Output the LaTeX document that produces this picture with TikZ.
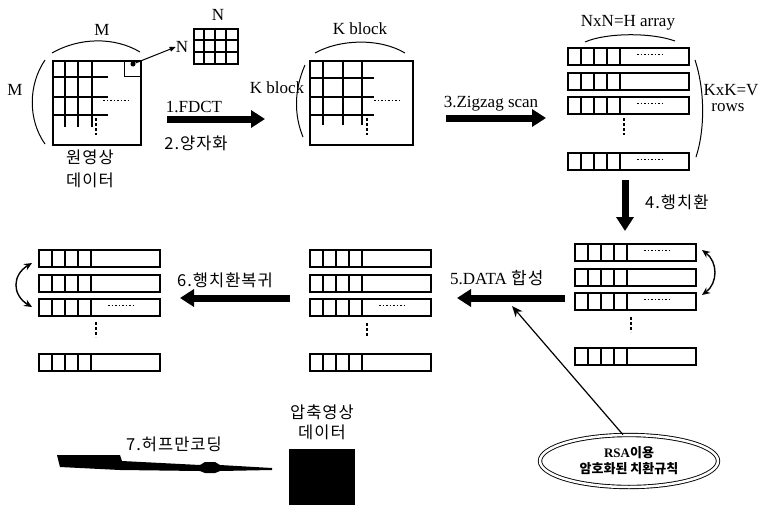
\documentclass[tikz,border=0pt]{standalone}
\usepackage{fontspec}
\setmainfont{Liberation Serif}
\newfontfamily\kr[LetterSpace=6]{Noto Sans CJK KR}
\newfontfamily\krsmall{Noto Sans CJK KR}
\usetikzlibrary{arrows.meta,shapes.geometric}
\newcommand\myrow[4]{%
  \node[rowbox] (#1) at (#2,#3) {};
  \foreach \d in {14,27,40,53}
    \draw[thick line] ([xshift=\d pt]#1.north west) -- ([xshift=\d pt]#1.south west);
  \ifnum#4=1
    \draw[rowdots] ([xshift=70pt,yshift=-7pt]#1.north west) -- ([xshift=98pt,yshift=-7pt]#1.north west);
  \fi
}
\begin{document}
\begin{tikzpicture}[x=1pt,y=-1pt,
  lbl/.style={font=\fontsize{17}{17}\selectfont, inner sep=0pt},
  krl/.style={font=\kr\fontsize{16.5}{16.5}\selectfont, inner sep=0pt},
  thick line/.style={line width=1.5pt},
  rowbox/.style={draw, line width=1.5pt, anchor=north west, minimum width=121pt, minimum height=17pt, inner sep=0pt},
  rowdots/.style={line width=1pt, dash pattern=on 1.5pt off 2pt},
  vdots/.style={line width=2.4pt, dash pattern=on 2.5pt off 2.5pt},
  brace/.style={line width=1pt},
  fat/.style={line width=7pt, -{Triangle[length=14pt,width=17pt]}},
  swap/.style={line width=1.4pt, {Stealth[length=8pt,width=7pt]}-{Stealth[length=8pt,width=7pt]}}
]
\useasboundingbox (0,0) rectangle (761,504);

% ---------- original image ----------
\node[draw, line width=1.6pt, anchor=north west, minimum width=88pt, minimum height=84pt, inner sep=0pt] (img) at (52,60) {};
\foreach \x in {65,78,92} \draw[thick line] (\x,60) -- (\x,127);
\foreach \y in {77,97,115} \draw[thick line] (52,\y) -- (108,\y);
\draw[line width=1pt] (124,60) -- (124,76) -- (140,76);
\draw[rowdots] (103,100) -- (128,100);
\draw[vdots] (96,118) -- (96,135);
\node[circle, fill, inner sep=1.8pt] (blk) at (133,64) {};
\draw[brace] (52,53) .. controls (80,37) and (115,37) .. (140,52);
\draw[brace] (45,60) .. controls (28,85) and (28,120) .. (45,144);
\node[lbl] (mtop) at (102,30) {M};
\node[lbl] (mleft) at (15,90) {M};
\node[krl] (orig1) at (90,157) {원영상};
\node[krl] (orig2) at (90,180) {데이터};

% small N x N block
\node[draw, line width=1.6pt, anchor=north west, minimum width=44pt, minimum height=35pt, inner sep=0pt] (small) at (193,28) {};
\foreach \x in {204,215,226} \draw[line width=1.6pt] (\x,28) -- (\x,63);
\foreach \y in {40,52} \draw[line width=1.6pt] (193,\y) -- (237,\y);
\node[lbl] (ntop) at (218,15) {N};
\node[lbl] (nleft) at (182,47) {N};
\draw[line width=1pt, -{Triangle[length=6pt,width=5pt]}] (blk) -- (nleft.west);

% arrow 1/2
\coordinate (a1s) at (167,119);
\coordinate (a1e) at (265,119);
\draw[fat] (a1s) -- (a1e);
\node[lbl] (fdct) at (194,107) {1.FDCT};
\node[krl] (quant) at (196,143) {2.양자화};

% ---------- K block ----------
\node[draw, line width=1.6pt, anchor=north west, minimum width=103pt, minimum height=84pt, inner sep=0pt] (kblk) at (309,60) {};
\foreach \x in {323,343,362} \draw[thick line] (\x,60) -- (\x,125);
\foreach \y in {78,97,115} \draw[thick line] (309,\y) -- (374,\y);
\draw[rowdots] (374,100) -- (399,100);
\draw[vdots] (367,118) -- (367,135);
\draw[brace] (315,53) .. controls (340,39) and (380,38) .. (405,53);
\draw[brace] (305,65) .. controls (294,90) and (294,115) .. (303,137);
\node[lbl] (ktop) at (360,29) {K block};
\node[lbl] (kleft) at (277,88) {K block};

% arrow 3
\coordinate (a3s) at (446,118);
\coordinate (a3e) at (546,118);
\draw[fat] (a3s) -- (a3e);
\node[lbl] (zig) at (491,104) {3.Zigzag scan};

% ---------- H array rows (top right) ----------
\myrow{t1}{567}{47}{1}
\myrow{t2}{567}{72}{0}
\myrow{t3}{567}{96}{1}
\myrow{t4}{567}{152}{1}
\draw[vdots] (624,118) -- (624,135);
\draw[brace] (585,42) .. controls (605,33) and (650,32) .. (675,41);
\draw[brace] (695,60) .. controls (705,90) and (705,130) .. (696,157);
\node[lbl] (harr) at (628,23) {NxN=H array};
\node[lbl] (kxk) at (731,90) {KxK=V};
\node[lbl] (rows) at (728,108) {rows};

% arrow 4
\coordinate (a4s) at (625,180);
\coordinate (a4e) at (625,231);
\draw[fat] (a4s) -- (a4e);
\node[krl, anchor=west] (perm) at (645,202) {4.행치환};

% ---------- permuted rows (middle right) ----------
\myrow{r1}{574}{243}{1}
\myrow{r2}{574}{268}{0}
\myrow{r3}{574}{292}{1}
\myrow{r4}{574}{347}{0}
\draw[vdots] (631,317) -- (631,332);
\draw[swap] (702,250) .. controls (718,262) and (718,283) .. (702,295);

% arrow 5
\coordinate (a5s) at (565,298);
\coordinate (a5e) at (457,298);
\draw[fat] (a5s) -- (a5e);
\node[lbl, anchor=west] (data) at (450,278) {5.DATA \kr 합성};

% ---------- middle rows ----------
\myrow{m1}{309}{249}{0}
\myrow{m2}{309}{274}{0}
\myrow{m3}{309}{298}{1}
\myrow{m4}{309}{353}{0}
\draw[vdots] (367,323) -- (367,337);

% arrow 6
\coordinate (a6s) at (290,298);
\coordinate (a6e) at (180,298);
\draw[fat] (a6s) -- (a6e);
\node[krl, anchor=west] (unperm) at (177,280) {6.행치환복귀};

% ---------- left rows ----------
\myrow{l1}{38}{249}{0}
\myrow{l2}{38}{274}{0}
\myrow{l3}{38}{298}{1}
\myrow{l4}{38}{353}{0}
\draw[vdots] (96,322) -- (96,337);
\draw[swap] (32,263) .. controls (12,275) and (12,295) .. (32,307);

% ---------- RSA ellipse ----------
\node[ellipse, draw, line width=0.9pt, double, double distance=2.5pt, minimum width=178pt, minimum height=52pt, inner sep=0pt,
      font=\bfseries\fontsize{13}{16}\selectfont, align=center] (rsa) at (629,461)
      {RSA{\krsmall\bfseries\fontsize{13}{16}\selectfont 이용}\\{\krsmall\bfseries\fontsize{13}{16}\selectfont 암호화된 치환규칙}};
\draw[line width=1.2pt, -{Stealth[length=11pt,width=9pt]}] (rsa.103) -- (512,306);

% ---------- compressed data ----------
\node[krl] (cmp1) at (322,412) {압축영상};
\node[krl] (cmp2) at (322,432) {데이터};
\node[fill=black, anchor=north west, minimum width=66pt, minimum height=56pt, inner sep=0pt] (cdata) at (289,449) {};
\fill (57,455) -- (120,455) -- (122,461) -- (200,465) -- (205,462) -- (215,462) -- (220,465) -- (272,468)
  -- (272,470) -- (220,471) -- (215,473) -- (205,473) -- (200,471) -- (120,470) -- (60,467) -- cycle;
\node[krl] (huff) at (174,444) {7.허프만코딩};
\end{tikzpicture}
\end{document}
